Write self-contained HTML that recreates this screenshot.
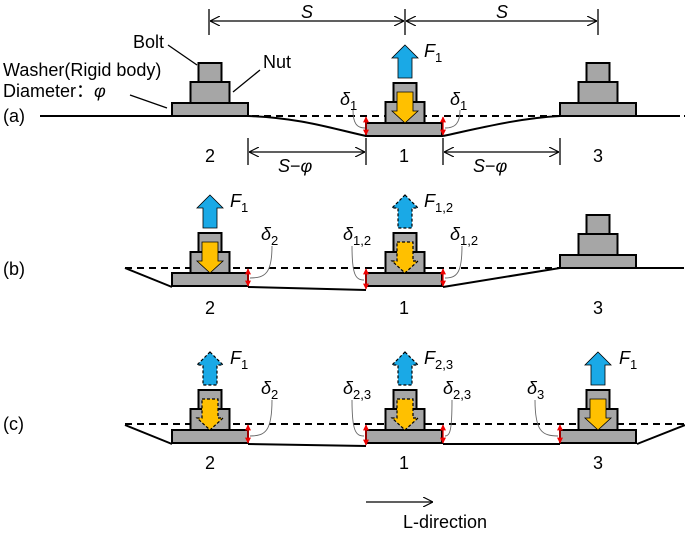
<!DOCTYPE html>
<html><head><meta charset="utf-8"><style>
html,body{margin:0;padding:0;background:#fff;}
svg{display:block;font-family:"Liberation Sans",sans-serif;}
</style></head><body>
<svg id="s" width="685" height="533" viewBox="0 0 685 533" xmlns="http://www.w3.org/2000/svg">
<defs>
<marker id="ah" viewBox="0 0 10 10" refX="10" refY="5" markerWidth="10" markerHeight="10" markerUnits="userSpaceOnUse" orient="auto-start-reverse"><path d="M0,0 L10,5 L0,10" fill="none" stroke="#000" stroke-width="1.2"/></marker>
<marker id="ra" viewBox="0 0 10 10" refX="9" refY="5" markerWidth="6" markerHeight="6" markerUnits="userSpaceOnUse" orient="auto-start-reverse"><path d="M0,0 L10,5 L0,10z" fill="#e00"/></marker>
</defs>
<g id="g"></g>
<g font-size="18" fill="#000">
<text x="133" y="48">Bolt</text>
<text x="263" y="68">Nut</text>
<text x="3" y="76">Washer(Rigid body)</text>
<text x="3" y="97">Diameter：<tspan font-style="italic">φ</tspan></text>
<text x="3" y="122">(a)</text>
<text x="3" y="275">(b)</text>
<text x="3" y="430">(c)</text>
<text x="301" y="18" font-style="italic">S</text>
<text x="496" y="18" font-style="italic">S</text>
<text x="278" y="172"><tspan font-style="italic">S</tspan>−<tspan font-style="italic">φ</tspan></text>
<text x="473" y="172"><tspan font-style="italic">S</tspan>−<tspan font-style="italic">φ</tspan></text>
<text x="205" y="162">2</text><text x="399" y="162">1</text><text x="593" y="162">3</text>
<text x="205" y="314">2</text><text x="399" y="314">1</text><text x="593" y="314">3</text>
<text x="205" y="469">2</text><text x="399" y="469">1</text><text x="593" y="469">3</text>
<text x="403" y="528">L-direction</text>
<text x="424" y="57" font-style="italic">F<tspan font-size="13" font-style="normal" dy="5">1</tspan></text>
<text x="230" y="207" font-style="italic">F<tspan font-size="13" font-style="normal" dy="5">1</tspan></text>
<text x="424" y="207" font-style="italic">F<tspan font-size="13" font-style="normal" dy="5">1,2</tspan></text>
<text x="230" y="364" font-style="italic">F<tspan font-size="13" font-style="normal" dy="5">1</tspan></text>
<text x="424" y="364" font-style="italic">F<tspan font-size="13" font-style="normal" dy="5">2,3</tspan></text>
<text x="619" y="364" font-style="italic">F<tspan font-size="13" font-style="normal" dy="5">1</tspan></text>
<text x="340" y="105" font-style="italic">δ<tspan font-size="13" font-style="normal" dy="5">1</tspan></text>
<text x="450" y="105" font-style="italic">δ<tspan font-size="13" font-style="normal" dy="5">1</tspan></text>
<text x="261" y="240" font-style="italic">δ<tspan font-size="13" font-style="normal" dy="5">2</tspan></text>
<text x="343" y="240" font-style="italic">δ<tspan font-size="13" font-style="normal" dy="5">1,2</tspan></text>
<text x="450" y="240" font-style="italic">δ<tspan font-size="13" font-style="normal" dy="5">1,2</tspan></text>
<text x="261" y="394" font-style="italic">δ<tspan font-size="13" font-style="normal" dy="5">2</tspan></text>
<text x="343" y="394" font-style="italic">δ<tspan font-size="13" font-style="normal" dy="5">2,3</tspan></text>
<text x="443" y="394" font-style="italic">δ<tspan font-size="13" font-style="normal" dy="5">2,3</tspan></text>
<text x="527" y="394" font-style="italic">δ<tspan font-size="13" font-style="normal" dy="5">3</tspan></text>
</g>
</svg>
<script>
var g=document.getElementById('g'),ns="http://www.w3.org/2000/svg";
function el(t,a){var e=document.createElementNS(ns,t);for(var k in a)e.setAttribute(k,a[k]);g.appendChild(e);return e;}
function line(x1,y1,x2,y2,w,extra){var a={x1:x1,y1:y1,x2:x2,y2:y2,stroke:'#000','stroke-width':w||1.3};for(var k in extra)a[k]=extra[k];return el('line',a);}
function path(d,a){a=a||{};a.d=d;if(!a.fill)a.fill='none';if(!a.stroke)a.stroke='#000';if(!a['stroke-width'])a['stroke-width']=2;return el('path',a);}
line(209,9,209,35);line(405,9,405,35);line(598,9,598,35);
line(210,21,404,21,1.2,{'marker-start':'url(#ah)','marker-end':'url(#ah)'});
line(406,21,597,21,1.2,{'marker-start':'url(#ah)','marker-end':'url(#ah)'});
line(248,138,248,165);line(366,138,366,165);line(443,138,443,165);line(560,138,560,165);
line(249,152,365,152,1.2,{'marker-start':'url(#ah)','marker-end':'url(#ah)'});
line(444,152,559,152,1.2,{'marker-start':'url(#ah)','marker-end':'url(#ah)'});
line(366,502,433,502,1.3,{'marker-end':'url(#ah)'});
line(168,45,197,65,1.3);line(260,70,233,92,1.3);line(130,95,167,108,1.3);
path('M40,116 L172,116 M248,116 C300,118 330,128 366,136 M443,136 C480,128 520,118 560,116 L680,116');
path('M252,116 L685,116',{'stroke-dasharray':'7,5'});
path('M125,268 L172,287 M248,287 L366,290 M443,287 L560,268 L680,268');
path('M125,268 L685,268',{'stroke-dasharray':'7,5'});
path('M125,425 L172,444 M248,444 L366,446 M443,444 L560,444 M637,444 L685,425');
path('M125,424 L685,424',{'stroke-dasharray':'7,5'});
function bolt(cx,wx,W){
 el('rect',{x:wx,y:W,width:76,height:13,fill:'#a6a6a6',stroke:'#000','stroke-width':2});
 el('rect',{x:cx-19.5,y:W-21,width:39,height:21,fill:'#a6a6a6',stroke:'#000','stroke-width':2});
 el('rect',{x:cx-11.5,y:W-40,width:23,height:19,fill:'#a6a6a6',stroke:'#000','stroke-width':2});
}
function arrows(cx,W,dashed){
 var T=W-40,da=dashed?{'stroke-dasharray':'3,2'}:{};
 var b=T-38;
 var a={fill:'#1aa9e6',stroke:'#000','stroke-width':dashed?1.2:0.8};for(var k in da)a[k]=da[k];
 path('M'+cx+','+b+' L'+(cx+13)+','+(b+13)+' L'+(cx+7)+','+(b+13)+' L'+(cx+7)+','+(b+33)+' L'+(cx-7)+','+(b+33)+' L'+(cx-7)+','+(b+13)+' L'+(cx-13)+','+(b+13)+'Z',a);
 var s=T+9,t=W;
 var o={fill:'#ffc000',stroke:'#000','stroke-width':dashed?1.2:0.8};for(var k in da)o[k]=da[k];
 path('M'+(cx-8)+','+s+' L'+(cx+8)+','+s+' L'+(cx+8)+','+(t-12)+' L'+(cx+13)+','+(t-12)+' L'+cx+','+t+' L'+(cx-13)+','+(t-12)+' L'+(cx-8)+','+(t-12)+'Z',o);
}
bolt(210,172,103);bolt(405,366,123);bolt(598,560,103);arrows(405,123,false);
bolt(210,172,273);bolt(405,366,273);bolt(598,560,255);arrows(210,273,false);arrows(405,273,true);
bolt(210,172,430);bolt(405,366,430);bolt(598,560,430);arrows(210,430,true);arrows(405,430,true);arrows(598,430,false);
function red(x,y1,y2){line(x,y1+1,x,y2-1,1.3,{stroke:'#e00','marker-start':'url(#ra)','marker-end':'url(#ra)'});}
red(366,116,136);red(443,116,136);
red(248,268,287);red(366,268,290);red(443,268,287);
red(248,424,444);red(366,424,446);red(443,424,444);red(560,424,444);
function lead(x1,y1,x2,y2){path('M'+x1+','+y1+' C'+x1+','+(y2-5)+' '+(x1+(x2-x1)*0.3)+','+y2+' '+x2+','+y2,{stroke:'#666','stroke-width':0.9});}
lead(353,110,365,128);lead(460,110,445,128);
lead(272,246,250,278);lead(352,246,364,280);lead(462,246,445,278);
lead(272,400,250,436);lead(352,400,364,436);lead(452,400,445,436);lead(535,400,558,436);
</script>
</body></html>
